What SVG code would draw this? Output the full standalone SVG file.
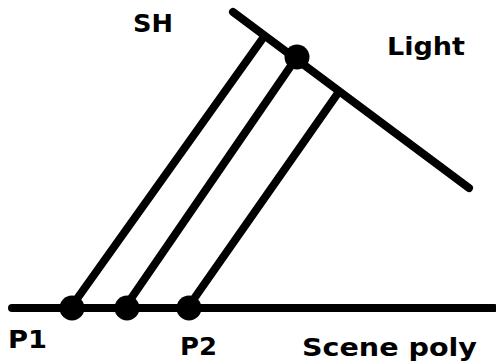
<svg xmlns="http://www.w3.org/2000/svg" width="496" height="363" viewBox="0 0 496 363">
<style>
.ln{stroke:#000;stroke-width:8;stroke-linecap:round;fill:none}
.dot{fill:#000}
.lbl{font-family:"DejaVu Sans","Liberation Sans",sans-serif;font-weight:bold;font-size:24.5px;fill:#000}
</style>
<rect width="496" height="363" fill="#fff"/>
<g id="connectors">
<line class="ln" x1="263" y1="38" x2="74" y2="303"/>
<line class="ln" x1="297" y1="57" x2="128" y2="303"/>
<line class="ln" x1="338" y1="93" x2="191" y2="303"/>
</g>
<g id="light">
<line class="ln" x1="233" y1="12" x2="469" y2="188"/>
<circle class="dot" cx="297" cy="57" r="12.5"/>
<text class="lbl" x="387" y="55" textLength="78" lengthAdjust="spacingAndGlyphs">Light</text>
</g>
<g id="sh">
<text class="lbl" x="133" y="32" textLength="40" lengthAdjust="spacingAndGlyphs">SH</text>
</g>
<g id="scene">
<line class="ln" x1="12" y1="308" x2="494" y2="308"/>
<text class="lbl" x="302" y="356" textLength="175" lengthAdjust="spacingAndGlyphs">Scene poly</text>
</g>
<g id="p1">
<circle class="dot" cx="72" cy="308" r="12.5"/>
<text class="lbl" x="8" y="348" textLength="39" lengthAdjust="spacingAndGlyphs">P1</text>
</g>
<g id="pm">
<circle class="dot" cx="127" cy="308" r="12.5"/>
</g>
<g id="p2">
<circle class="dot" cx="189" cy="308" r="12.5"/>
<text class="lbl" x="180" y="355" textLength="37" lengthAdjust="spacingAndGlyphs">P2</text>
</g>
</svg>
